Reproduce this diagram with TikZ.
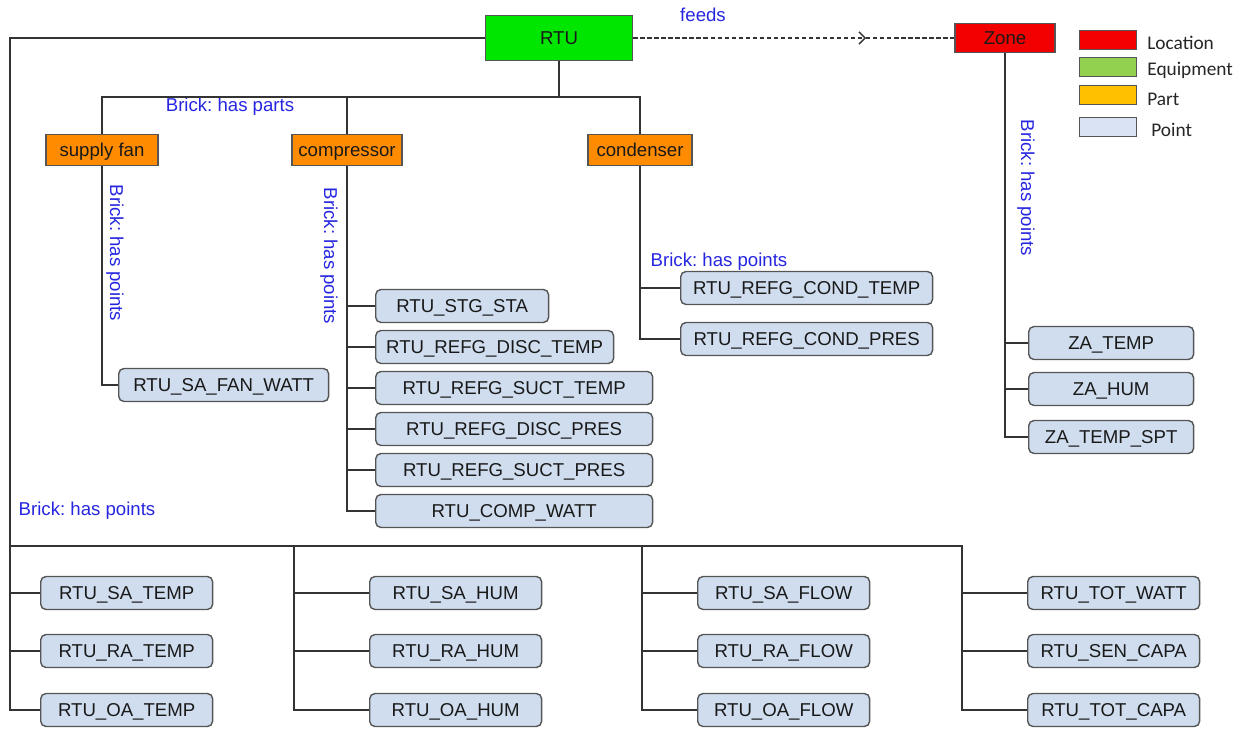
\documentclass[tikz,border=0pt]{standalone}
\usepackage{fontspec}
\setmainfont{Liberation Sans}
\newfontfamily\legendfont{Carlito}
\usetikzlibrary{arrows.meta}
\frenchspacing
\definecolor{eqgreen}{HTML}{00E600}
\definecolor{locred}{HTML}{F20000}
\definecolor{partorange}{HTML}{FF8C00}
\definecolor{pointblue}{HTML}{CFDDEE}
\definecolor{linkgray}{HTML}{333333}
\definecolor{boxedge}{HTML}{555555}
\definecolor{relblue}{HTML}{2626E0}
\definecolor{leggreen}{HTML}{92D050}
\definecolor{legorange}{HTML}{FFC000}
\definecolor{legblue}{HTML}{DAE3F3}
\begin{document}
\begin{tikzpicture}[x=0.02cm, y=-0.02cm,
    font=\fontsize{10.6}{12}\selectfont,
    link/.style={draw=linkgray, line width=0.75pt},
    feedline/.style={draw=linkgray, line width=0.75pt, dash pattern=on 2.5pt off 1.5pt},
    entity/.style={draw=boxedge, line width=0.8pt, text=black!90, inner sep=0pt, text height=7.6pt, text depth=0pt},
    equipbox/.style={entity, fill=eqgreen, minimum width=2.94cm, minimum height=0.9cm},
    locbox/.style={entity, fill=locred, minimum width=2cm, minimum height=0.58cm},
    partbox/.style={entity, fill=partorange, minimum height=0.62cm},
    pointbox/.style={entity, fill=pointblue, rounded corners=3pt, anchor=west, minimum height=0.66cm},
    relabel/.style={text=relblue, inner sep=0pt},
    legbox/.style={draw=boxedge, line width=0.9pt, minimum width=1.14cm, minimum height=0.38cm, inner sep=0pt},
    legtext/.style={anchor=west, inner sep=0pt, text=black!85, font=\legendfont\fontsize{11}{12}\selectfont}]
    \useasboundingbox (0,0) rectangle (1245,729);

    \node[equipbox] (rtu) at (559,38) {RTU};
    \node[locbox] (zone) at (1005,38) {Zone};

    \node[partbox, minimum width=2.24cm] (supfan) at (102,150) {supply fan};
    \node[partbox, minimum width=2.2cm] (compressor) at (347,150) {compressor};
    \node[partbox, minimum width=2.08cm] (condenser) at (640,150) {condenser};

    \node[pointbox, minimum width=4.2cm] (safanwatt) at (118,385) {RTU\_SA\_FAN\_WATT};

    \node[pointbox, minimum width=3.46cm] (stgsta) at (375,306) {RTU\_STG\_STA};
    \node[pointbox, minimum width=4.76cm] (disctemp) at (375,347) {RTU\_REFG\_DISC\_TEMP};
    \node[pointbox, minimum width=5.54cm] (sucttemp) at (375,388) {RTU\_REFG\_SUCT\_TEMP};
    \node[pointbox, minimum width=5.54cm] (discpres) at (375,429) {RTU\_REFG\_DISC\_PRES};
    \node[pointbox, minimum width=5.54cm] (suctpres) at (375,470) {RTU\_REFG\_SUCT\_PRES};
    \node[pointbox, minimum width=5.54cm] (compwatt) at (375,511) {RTU\_COMP\_WATT};

    \node[pointbox, minimum width=5.04cm] (condtemp) at (680,288) {RTU\_REFG\_COND\_TEMP};
    \node[pointbox, minimum width=5.04cm] (condpres) at (680,339) {RTU\_REFG\_COND\_PRES};

    \node[pointbox, minimum width=3.3cm] (zatemp) at (1028,343) {ZA\_TEMP};
    \node[pointbox, minimum width=3.3cm] (zahum) at (1028,389) {ZA\_HUM};
    \node[pointbox, minimum width=3.3cm] (zatempspt) at (1028,437) {ZA\_TEMP\_SPT};

    \node[pointbox, minimum width=3.44cm] (satemp) at (40,593) {RTU\_SA\_TEMP};
    \node[pointbox, minimum width=3.44cm] (ratemp) at (40,651) {RTU\_RA\_TEMP};
    \node[pointbox, minimum width=3.44cm] (oatemp) at (40,710) {RTU\_OA\_TEMP};
    \node[pointbox, minimum width=3.44cm] (sahum) at (369,593) {RTU\_SA\_HUM};
    \node[pointbox, minimum width=3.44cm] (rahum) at (369,651) {RTU\_RA\_HUM};
    \node[pointbox, minimum width=3.44cm] (oahum) at (369,710) {RTU\_OA\_HUM};
    \node[pointbox, minimum width=3.44cm] (saflow) at (697,593) {RTU\_SA\_FLOW};
    \node[pointbox, minimum width=3.44cm] (raflow) at (697,651) {RTU\_RA\_FLOW};
    \node[pointbox, minimum width=3.44cm] (oaflow) at (697,710) {RTU\_OA\_FLOW};
    \node[pointbox, minimum width=3.44cm] (totwatt) at (1027,593) {RTU\_TOT\_WATT};
    \node[pointbox, minimum width=3.44cm] (sencapa) at (1027,651) {RTU\_SEN\_CAPA};
    \node[pointbox, minimum width=3.44cm] (totcapa) at (1027,710) {RTU\_TOT\_CAPA};

    \node[relabel] (feedslbl) at (703,15) {feeds};
    \node[relabel] (partslbl) at (230,107) {Brick: has parts};
    \node[relabel, rotate=-90] (fanptslbl) at (115,253) {Brick: has points};
    \node[relabel, rotate=-90] (compptslbl) at (329,256) {Brick: has points};
    \node[relabel] (condptslbl) at (719,262) {Brick: has points};
    \node[relabel, rotate=-90] (zoneptslbl) at (1026,188) {Brick: has points};
    \node[relabel] (rtuptslbl) at (87,511) {Brick: has points};

    \node[legbox, fill=locred] (leglocation) at (1108,40) {};
    \node[legbox, fill=leggreen] (legequip) at (1108,67) {};
    \node[legbox, fill=legorange] (legpart) at (1108,95) {};
    \node[legbox, fill=legblue] (legpoint) at (1108,127) {};
    \node[legtext] (leglocationtxt) at (1147,43) {Location};
    \node[legtext] (legequiptxt) at (1147,70) {Equipment};
    \node[legtext] (legparttxt) at (1147,99) {Part};
    \node[legtext] (legpointtxt) at (1151,130) {Point};

    \coordinate (feedtip) at (866,38);
    \draw[feedline, -{Straight Barb[length=3.5pt, width=7pt]}] (rtu.east) -- (feedtip);
    \draw[feedline] (feedtip) -- (zone.west);

    \coordinate (partbus) at (559,97);
    \draw[link] (rtu.south) -- (partbus);
    \draw[link] (supfan.north) |- (partbus) -| (condenser.north);
    \draw[link] (compressor.north) -- (compressor.north |- partbus);

    \draw[link] (supfan.south) |- (safanwatt.west);

    \draw[link] (compressor.south) |- (compwatt.west);
    \draw[link] (compressor.south |- stgsta.west) -- (stgsta.west);
    \draw[link] (compressor.south |- disctemp.west) -- (disctemp.west);
    \draw[link] (compressor.south |- sucttemp.west) -- (sucttemp.west);
    \draw[link] (compressor.south |- discpres.west) -- (discpres.west);
    \draw[link] (compressor.south |- suctpres.west) -- (suctpres.west);

    \draw[link] (condenser.south) |- (condpres.west);
    \draw[link] (condenser.south |- condtemp.west) -- (condtemp.west);

    \draw[link] (zone.south) |- (zatempspt.west);
    \draw[link] (zone.south |- zatemp.west) -- (zatemp.west);
    \draw[link] (zone.south |- zahum.west) -- (zahum.west);

    \coordinate (spine) at (10,38);
    \draw[link] (rtu.west) -- (spine) |- (oatemp.west);
    \draw[link] (spine |- satemp.west) -- (satemp.west);
    \draw[link] (spine |- ratemp.west) -- (ratemp.west);

    \coordinate (pointbus) at (10,546);
    \coordinate (humbus) at (294,546);
    \coordinate (flowbus) at (642,546);
    \coordinate (wattbus) at (962,546);
    \draw[link] (pointbus) -- (wattbus) |- (totcapa.west);
    \draw[link] (wattbus |- totwatt.west) -- (totwatt.west);
    \draw[link] (wattbus |- sencapa.west) -- (sencapa.west);
    \draw[link] (humbus) |- (oahum.west);
    \draw[link] (humbus |- sahum.west) -- (sahum.west);
    \draw[link] (humbus |- rahum.west) -- (rahum.west);
    \draw[link] (flowbus) |- (oaflow.west);
    \draw[link] (flowbus |- saflow.west) -- (saflow.west);
    \draw[link] (flowbus |- raflow.west) -- (raflow.west);
\end{tikzpicture}
\end{document}
